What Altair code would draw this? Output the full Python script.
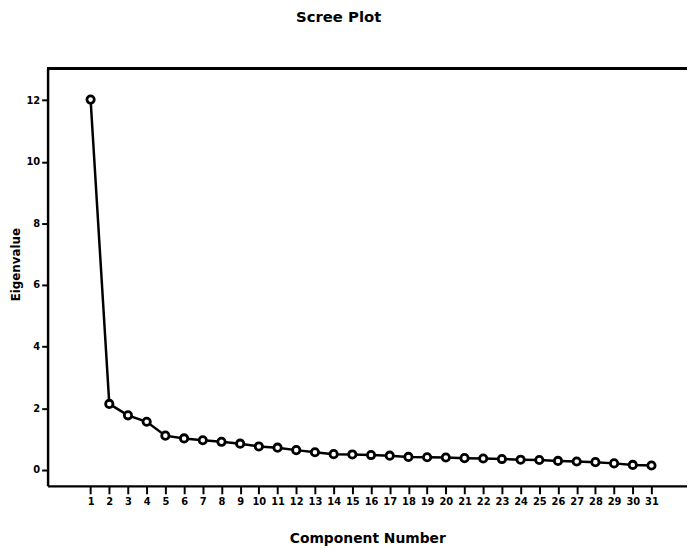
import altair as alt
import pandas as pd

components = list(range(1, 32))
eigenvalues = [12.02, 2.14, 1.77, 1.56, 1.11, 1.02, 0.96, 0.91, 0.85, 0.76,
               0.72, 0.64, 0.57, 0.51, 0.50, 0.48, 0.46, 0.42, 0.41, 0.40,
               0.38, 0.37, 0.35, 0.33, 0.32, 0.29, 0.27, 0.25, 0.21, 0.16, 0.14]
y_ticks = [0, 2, 4, 6, 8, 10, 12]

df = pd.DataFrame({"Component Number": components, "Eigenvalue": eigenvalues})

FONT = "DejaVu Sans"

x_enc = alt.X(
    "Component Number:Q",
    scale=alt.Scale(domain=[-1.3, 32.9], nice=False, zero=False),
    axis=alt.Axis(
        values=components, tickCount=40, format="d", grid=False,
        domainColor="black", domainWidth=2.5,
        tickColor="black", tickWidth=2, tickSize=8,
        labelFont=FONT, labelFontWeight="bold", labelFontSize=10,
        labelColor="black", labelPadding=3, labelOverlap=False,
        title="Component Number", titleFont=FONT, titleFontWeight="bold",
        titleFontSize=14, titleColor="black", titlePadding=25,
    ),
)
y_enc = alt.Y(
    "Eigenvalue:Q",
    scale=alt.Scale(domain=[-0.52, 13.04], nice=False, zero=False),
    axis=alt.Axis(
        values=y_ticks, tickCount=10, format="d", grid=False,
        domainColor="black", domainWidth=2.5,
        tickColor="black", tickWidth=2, tickSize=6,
        labelFont=FONT, labelFontWeight="bold", labelFontSize=10,
        labelColor="black", labelPadding=2,
        title="Eigenvalue", titleFont=FONT, titleFontWeight="bold",
        titleFontSize=12, titleColor="black",
        titleX=-32, titleY=198, titleAlign="center", titleBaseline="middle",
        titleAngle=270,
    ),
)

line = alt.Chart(df).mark_line(color="black", strokeWidth=2.5).encode(x=x_enc, y=y_enc)
points = alt.Chart(df).mark_point(
    shape="circle", filled=False, fill="white", fillOpacity=1,
    stroke="black", strokeWidth=2.8, size=55, opacity=1,
).encode(x="Component Number:Q", y="Eigenvalue:Q")

top_rule = alt.Chart(df).mark_rule(color="black", strokeWidth=2.5).encode(
    x=alt.value(0), x2=alt.value(646), y=alt.value(0)
)

chart = alt.layer(top_rule, line, points).properties(
    width=646,
    height=422,
    autosize=alt.AutoSizeParams(type="none"),
    padding={"left": 40, "top": 58, "right": 0, "bottom": 62},
    title=alt.TitleParams(
        "Scree Plot", font=FONT, fontWeight="bold", fontSize=15,
        color="black", anchor="middle", dx=-29, offset=42,
    ),
).configure_view(stroke=None).configure(background="white")

chart.save("out.html", embed_options={"renderer": "svg", "actions": False})
